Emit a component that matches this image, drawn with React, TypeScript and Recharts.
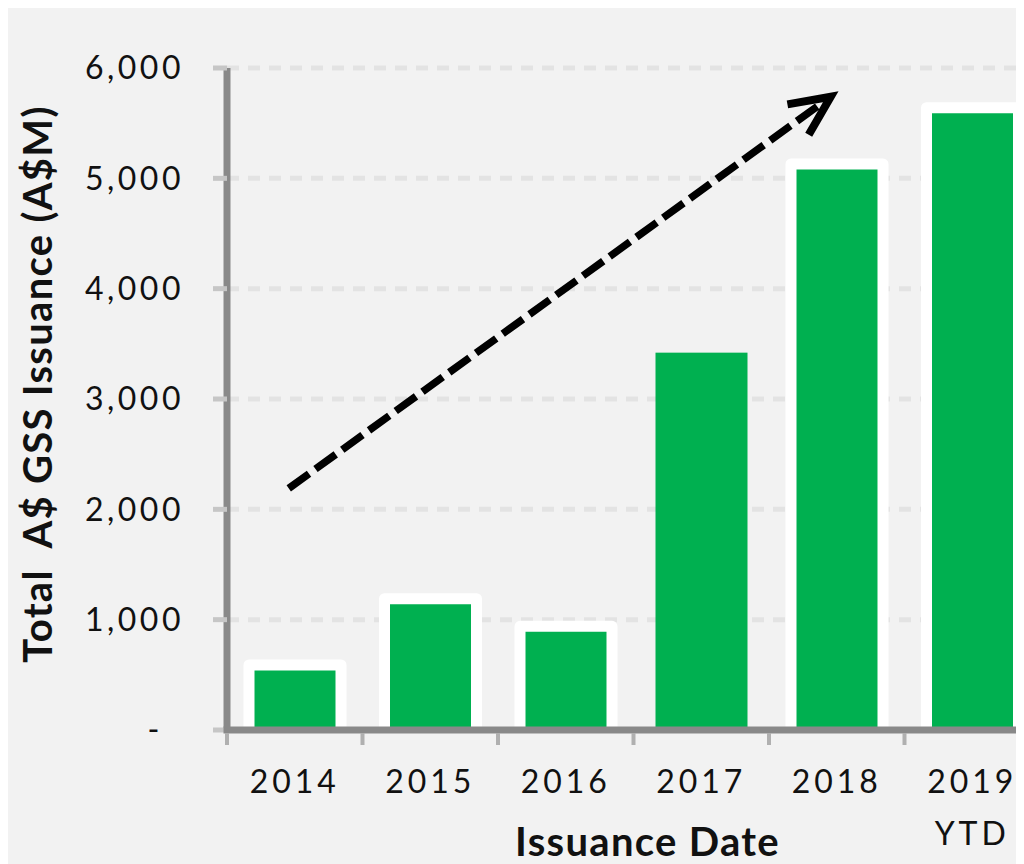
import { Bar, BarChart, CartesianGrid, ReferenceLine, XAxis, YAxis } from "recharts";

const years = ["2014", "2015", "2016", "2017", "2018", "2019\nYTD"];
const issuance = [590, 1190, 940, 3420, 5130, 5640];
const outlined = [true, true, true, false, true, true];
const yTicks = [0, 1000, 2000, 3000, 4000, 5000, 6000];

// trend arrow, drawn from the 2014 band to the 2018 band
const arrowFrom = { x: years[0], y: 2190 };
const arrowTo = { x: years[4], y: 5740 };

const data = years.map((year, i) => ({
  year,
  issuance: issuance[i],
  outlined: outlined[i],
}));

const font = "Lato, 'Open Sans', sans-serif";
const green = "#00b050";
const axisGrey = "#898989";

const fmt = (v: number) => (v === 0 ? "-" : v.toLocaleString("en-US"));

function YTick({ x, y, payload }: any) {
  const v = payload.value as number;
  return (
    <text
      x={v === 0 ? x - 21 : x}
      y={y}
      dy="0.35em"
      textAnchor="end"
      fontFamily={font}
      fontSize={32}
      letterSpacing={3.5}
      fill="#111"
    >
      {fmt(v)}
    </text>
  );
}

function XTick({ x, y, payload }: any) {
  const lines = String(payload.value).split("\n");
  const off = payload.offset ?? 0;
  return (
    <g>
      <line x1={x - off} x2={x - off} y1={y + 3} y2={y + 15} stroke="#b0b0b0" strokeWidth={4} />
      <text
        x={x}
        y={y + 63}
        textAnchor="middle"
        fontFamily={font}
        fontSize={32}
        letterSpacing={4}
        fill="#111"
      >
        {lines.map((l, i) => (
          <tspan key={i} x={x} dy={i === 0 ? 0 : 52}>
            {l}
          </tspan>
        ))}
      </text>
    </g>
  );
}

function BarShape(props: any) {
  const { x, y, width, height, payload } = props;
  return (
    <g>
      <rect x={x} y={y} width={width} height={height} fill={green} />
      {payload.outlined && (
        <path
          d={`M${x},${y + height} V${y} H${x + width} V${y + height}`}
          fill="none"
          stroke="#fff"
          strokeWidth={11}
          strokeLinejoin="round"
        />
      )}
    </g>
  );
}

function ArrowShape(props: any) {
  const { x1, y1, x2, y2 } = props;
  const sx = x1 - 6;
  const ex = x2 - 6;
  const ang = Math.atan2(y2 - y1, ex - sx);
  const len = 44;
  const a1 = ang + Math.PI - 0.42;
  const a2 = ang + Math.PI + 0.45;
  return (
    <g>
      <line
        x1={sx}
        y1={y1}
        x2={ex - 6 * Math.cos(ang)}
        y2={y2 - 6 * Math.sin(ang)}
        stroke="#000"
        strokeWidth={7.5}
        strokeDasharray="25 8"
      />
      <polyline
        points={`${ex + len * Math.cos(a1)},${y2 + len * Math.sin(a1)} ${ex},${y2} ${ex + len * Math.cos(a2)},${y2 + len * Math.sin(a2)}`}
        fill="none"
        stroke="#000"
        strokeWidth={8}
        strokeLinejoin="miter"
      />
    </g>
  );
}

function YTitle({ viewBox }: any) {
  const cx = viewBox.x + 29;
  const cy = viewBox.y + viewBox.height / 2 - 15;
  return (
    <text
      x={cx}
      y={cy}
      transform={`rotate(-90 ${cx} ${cy})`}
      textAnchor="middle"
      dominantBaseline="central"
      fontFamily={font}
      fontWeight={700}
      fontSize={40}
      letterSpacing={1.3}
      fill="#111"
      style={{ whiteSpace: "pre" }}
    >
      {"Total  A$ GSS Issuance (A$M)"}
    </text>
  );
}

function XTitle({ viewBox }: any) {
  const cx = viewBox.x + viewBox.width / 2 + 14;
  const by = viewBox.y + viewBox.height - 8;
  return (
    <text
      x={cx}
      y={by}
      textAnchor="middle"
      fontFamily={font}
      fontWeight={700}
      fontSize={40}
      letterSpacing={1.3}
      fill="#111"
    >
      Issuance Date
    </text>
  );
}

export default function App() {
  return (
    <div style={{ width: 1016, height: 856, overflow: "hidden", background: "#f2f2f2" }}>
      <BarChart width={1040} height={856} data={data} margin={{ top: 60, right: 8, bottom: 0, left: 0 }}>
        <CartesianGrid vertical={false} stroke="#e3e3e3" strokeWidth={5} strokeDasharray="12 9" />
        <YAxis
          width={219}
          domain={[0, 6000]}
          ticks={yTicks}
          interval={0}
          tick={<YTick />}
          tickSize={14}
          tickMargin={29}
          tickLine={{ stroke: "#c6c6c6", strokeWidth: 5 }}
          axisLine={{ stroke: axisGrey, strokeWidth: 7 }}
          label={<YTitle />}
        />
        <Bar dataKey="issuance" barSize={92} shape={<BarShape />} isAnimationActive={false} />
        <ReferenceLine segment={[arrowFrom, arrowTo]} shape={<ArrowShape />} stroke="#000" />
        <XAxis
          dataKey="year"
          height={134}
          interval={0}
          tick={<XTick />}
          tickSize={0}
          tickMargin={0}
          tickLine={false}
          axisLine={{ stroke: axisGrey, strokeWidth: 7, strokeLinecap: "square" }}
          label={<XTitle />}
        />
      </BarChart>
    </div>
  );
}
